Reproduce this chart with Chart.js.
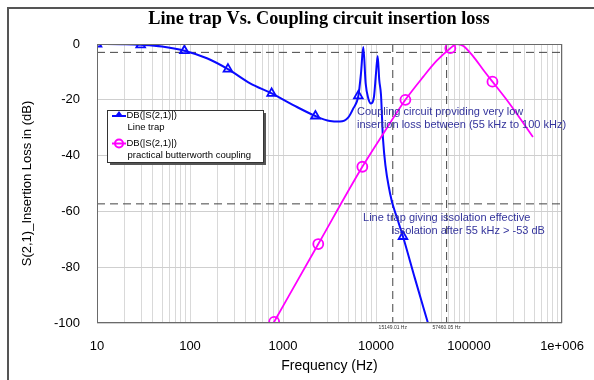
<!DOCTYPE html>
<html><head><meta charset="utf-8">
<script src="https://cdn.jsdelivr.net/npm/chart.js@4.4.1/dist/chart.umd.min.js"></script>
<style>
html,body{margin:0;padding:0;background:#fff;}
#wrap{position:relative;width:594px;height:380px;overflow:hidden;}
#frame{position:absolute;left:7px;top:7px;width:600px;height:400px;border-left:2px solid #555;border-top:2px solid #555;pointer-events:none;}
canvas{position:absolute;left:0;top:0;}
</style></head><body>
<div id="wrap"><canvas id="c" width="594" height="380"></canvas><div id="frame"></div></div>
<script>
// ---- data ----
const xTickValues = [10, 100, 1000, 10000, 100000, 1000000];
const xTickLabels = ['10', '100', '1000', '10000', '100000', '1e+006'];
const yTickValues = [0, -20, -40, -60, -80, -100];

const lineTrapFreq = [10, 20, 29.5, 50, 87, 152, 256, 443, 755, 1290, 2230, 3200, 4100, 5040, 5700, 6460, 6900, 7300, 7740, 8260, 8830, 9510, 10000, 10420, 10840, 11320, 11890, 14150, 17100, 19500, 26200, 36200];
const lineTrapDb   = [0, -0.1, -0.3, -0.9, -2.4, -5.1, -9, -14.1, -17.7, -21.9, -25.8, -27.6, -27.8, -26.3, -23.1, -18.6, -10.4, -1.1, -14.1, -19.5, -21.3, -18.9, -10.5, -4.3, -12.9, -18.3, -34, -53.5, -63, -69, -84, -100];
const lineTrapMarkerFreq = [10, 29.5, 87, 256, 755, 2230, 6460, 19500];
const lineTrapMarkerDb   = [0, -0.3, -2.4, -9, -17.7, -25.8, -18.6, -69];

const couplingFreq = [790, 2395, 7130, 12150, 20700, 32300, 45000, 63000, 73800, 86900, 111400, 142700, 178700, 254000, 353000, 487000];
const couplingDb   = [-100, -71.7, -44, -31.8, -20, -11.7, -6, -1.5, 0, -0.7, -4.5, -9.3, -13.5, -20, -26.6, -33.3];
const couplingMarkerFreq = [804, 2395, 7130, 20700, 63000, 178700];
const couplingMarkerDb   = [-99.6, -71.7, -44, -20, -1.5, -13.5];

const refLevelsDb = [-3, -57.3];
const refFreqs = [15149.01, 57460.05];
const refFreqLabels = ['15149.01 Hz', '57460.05 Hz'];

const titleText = 'Line trap Vs. Coupling circuit insertion loss';
const seriesName = 'DB(|S(2,1)|)';
const seriesLabels = ['Line trap', 'practical butterworth coupling'];
const noteCoupling = ['Coupling circuit providing very low', 'insertion loss between (55 kHz to 100 kHz)'];
const noteTrap = ['Line trap giving issolation effective', 'issolation after 55 kHz > -53 dB'];

// ---- build ----
const pts = (xs, ys) => xs.map((x, i) => ({x: x, y: ys[i]}));
const BLUE = '#0a0aff', MAG = '#ff00ff', DASH = '#444444';
const F = '"Liberation Sans", Arial, sans-serif';

const datasets = [
  {data: pts(couplingMarkerFreq, couplingMarkerDb), showLine: false, pointStyle: 'circle', pointRadius: 5, borderColor: MAG, backgroundColor: 'rgba(255,255,255,0)', borderWidth: 1.8, order: 0},
  {data: pts(lineTrapMarkerFreq, lineTrapMarkerDb), showLine: false, pointStyle: 'triangle', pointRadius: 5, borderColor: BLUE, backgroundColor: 'rgba(255,255,255,0)', borderWidth: 1.8, order: 0},
  {data: pts(couplingFreq, couplingDb), borderColor: MAG, borderWidth: 1.8, pointRadius: 0, cubicInterpolationMode: 'monotone', order: 1},
  {data: pts(lineTrapFreq, lineTrapDb), borderColor: BLUE, borderWidth: 2, pointRadius: 0, cubicInterpolationMode: 'monotone', order: 1}
];
refLevelsDb.forEach(v => datasets.push({data: [{x: xTickValues[0], y: v}, {x: xTickValues[xTickValues.length-1], y: v}], borderColor: DASH, borderWidth: 1, borderDash: [8, 5], pointRadius: 0, order: 2}));
refFreqs.forEach(f => datasets.push({data: [{x: f, y: yTickValues[0]}, {x: f, y: yTickValues[yTickValues.length-1]}], borderColor: DASH, borderWidth: 1, borderDash: [8, 5], pointRadius: 0, order: 2}));

const decor = {
  id: 'decor',
  afterDatasetsDraw(chart) {
    const {ctx, chartArea: a, scales: {x, y}} = chart;
    ctx.save();
    // plot border
    ctx.strokeStyle = '#6a6a6a'; ctx.lineWidth = 1;
    ctx.strokeRect(a.left + 0.5, a.top + 0.5, a.right - a.left - 1, a.bottom - a.top - 1);
    // small labels for reference frequencies
    ctx.fillStyle = '#333'; ctx.font = '5px ' + F; ctx.textAlign = 'center'; ctx.textBaseline = 'middle';
    refFreqs.forEach((f, i) => ctx.fillText(refFreqLabels[i], x.getPixelForValue(f), a.bottom + 5));
    // annotations
    ctx.fillStyle = '#34349c'; ctx.font = '11px ' + F; ctx.textAlign = 'left';
    ctx.fillText(noteCoupling[0], x.getPixelForValue(6250), y.getPixelForValue(-24.4));
    ctx.fillText(noteCoupling[1], x.getPixelForValue(6250), y.getPixelForValue(-28.9));
    ctx.fillText(noteTrap[0], x.getPixelForValue(7250), y.getPixelForValue(-62.4));
    ctx.fillText(noteTrap[1], x.getPixelForValue(14760), y.getPixelForValue(-67.0));
    // legend box
    const L = 107, T = 110, W = 156, H = 52;
    ctx.fillStyle = '#555'; ctx.fillRect(L + 3, T + 3, W, H);
    ctx.fillStyle = '#fff'; ctx.fillRect(L, T, W, H);
    ctx.strokeStyle = '#333'; ctx.lineWidth = 1; ctx.strokeRect(L + 0.5, T + 0.5, W, H);
    // entry 1
    ctx.strokeStyle = BLUE; ctx.lineWidth = 2;
    ctx.beginPath(); ctx.moveTo(112, 116); ctx.lineTo(126, 116); ctx.stroke();
    ctx.fillStyle = BLUE; ctx.beginPath(); ctx.moveTo(119, 111); ctx.lineTo(123.5, 117); ctx.lineTo(114.5, 117); ctx.closePath(); ctx.fill();
    // entry 2
    ctx.strokeStyle = MAG; ctx.lineWidth = 2;
    ctx.beginPath(); ctx.moveTo(112, 143.5); ctx.lineTo(126, 143.5); ctx.stroke();
    ctx.beginPath(); ctx.arc(119, 143.5, 4, 0, Math.PI * 2); ctx.stroke();
    ctx.fillStyle = '#000'; ctx.font = '9.5px ' + F; ctx.textAlign = 'left'; ctx.textBaseline = 'middle';
    ctx.fillText(seriesName, 126.5, 115.5);
    ctx.fillText(seriesLabels[0], 127.5, 127);
    ctx.fillText(seriesName, 126.5, 143.5);
    ctx.fillText(seriesLabels[1], 127.5, 155);
    // title
    ctx.fillStyle = '#000'; ctx.font = 'bold 18.3px "Liberation Serif", "Times New Roman", serif'; ctx.textAlign = 'center';
    ctx.fillText(titleText, 319, 19);
    ctx.restore();
  }
};

new Chart(document.getElementById('c'), {
  type: 'line',
  data: {datasets: datasets},
  plugins: [decor],
  options: {
    responsive: false, animation: false, devicePixelRatio: 1,
    layout: {padding: {left: 0, right: 32, top: 44, bottom: 0}},
    plugins: {legend: {display: false}, tooltip: {enabled: false}, title: {display: false}},
    scales: {
      x: {
        type: 'logarithmic', min: xTickValues[0], max: xTickValues[xTickValues.length-1],
        afterFit: s => { s.height = 57; s.paddingLeft = 0; s.paddingRight = 0; },
        afterBuildTicks: s => {
          const t = [];
          for (let i = 0; i < xTickValues.length - 1; i++) for (let m = 1; m <= 9; m++) t.push({value: m * xTickValues[i]});
          t.push({value: xTickValues[xTickValues.length-1]});
          s.ticks = t;
        },
        ticks: {autoSkip: false, maxRotation: 0, padding: 16, color: '#000', font: {family: F, size: 13},
          callback: v => { const i = xTickValues.indexOf(v); return i >= 0 ? xTickLabels[i] : ''; }},
        grid: {color: '#d9d9d9', drawTicks: false},
        border: {display: false},
        title: {display: true, text: 'Frequency (Hz)', color: '#000', font: {family: F, size: 14}, padding: {top: 0, bottom: 5}}
      },
      y: {
        min: yTickValues[yTickValues.length-1], max: yTickValues[0],
        afterFit: s => { s.width = 97; s.paddingTop = 0; s.paddingBottom = 0; },
        afterBuildTicks: s => { s.ticks = yTickValues.map(v => ({value: v})); },
        ticks: {padding: 17, color: '#000', font: {family: F, size: 13}, callback: v => String(v)},
        grid: {color: '#cfcfcf', drawTicks: false},
        border: {display: false},
        title: {display: true, text: 'S(2,1)_Insertion Loss in (dB)', color: '#000', font: {family: F, size: 13}, padding: {top: 20, bottom: 0}}
      }
    }
  }
});
</script>
</body></html>
